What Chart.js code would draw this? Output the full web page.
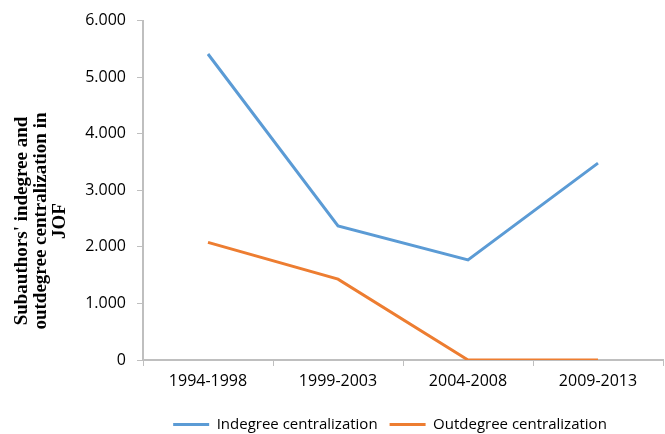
<!DOCTYPE html>
<html>
<head>
  <title>Subauthors centralization in JOF</title>
  <script src="https://cdn.jsdelivr.net/npm/chart.js"></script>
  <style>
    html, body {
      margin: 0;
      padding: 0;
      background-color: #fff;
    }

    .chart-container {
      width: 665px;
      height: 434px;
    }
  </style>
</head>
<body>
<div class="chart-container">
  <canvas id="lineChart"></canvas>
</div>

<script>
  const periods = ['1994-1998', '1999-2003', '2004-2008', '2009-2013'];
  const indegree = [5.41, 2.37, 1.77, 3.48];
  const outdegree = [2.08, 1.43, 0, 0];
  const yTitle = ["Subauthors' indegree and", 'outdegree centralization in', 'JOF'];

  const axisColor = '#bfbfbf';

  // rotated y axis title, centred on the whole canvas height
  const sideTitle = {
    id: 'sideTitle',
    afterDraw(chart) {
      const ctx = chart.ctx;
      ctx.save();
      ctx.translate(41, 221);
      ctx.rotate(-Math.PI / 2);
      ctx.font = 'bold 19px "Liberation Serif"';
      ctx.fillStyle = '#000';
      ctx.textAlign = 'center';
      ctx.textBaseline = 'middle';
      yTitle.forEach((line, i) => {
        ctx.fillText(line, 0, (i - 1) * 19);
      });
      ctx.restore();
    }
  };

  // keep the legend centred under the plot and closer to the bottom edge
  const legendShift = {
    id: 'legendShift',
    afterLayout(chart) {
      const lg = chart.legend;
      lg.left = chart.chartArea.left - 26;
      lg.right = chart.chartArea.right;
      lg.top += 8;
      lg.bottom += 8;
    }
  };

  new Chart(document.getElementById('lineChart').getContext('2d'), {
    type: 'line',
    data: {
      labels: periods,
      datasets: [
        {
          label: 'Indegree centralization',
          data: indegree,
          borderColor: '#5b9bd5',
          backgroundColor: '#5b9bd5',
          borderWidth: 3,
          pointRadius: 0,
          tension: 0
        },
        {
          label: 'Outdegree centralization',
          data: outdegree,
          borderColor: '#ed7d31',
          backgroundColor: '#ed7d31',
          borderWidth: 3,
          pointRadius: 0,
          tension: 0
        }
      ]
    },
    options: {
      responsive: true,
      maintainAspectRatio: false,
      animation: false,
      layout: { padding: { top: 20, right: 2, left: 0, bottom: 0 } },
      scales: {
        x: {
          offset: true,
          grid: {
            offset: true,
            drawOnChartArea: false,
            color: axisColor,
            tickLength: 6
          },
          border: { color: axisColor, width: 2 },
          ticks: {
            color: '#000',
            font: { family: 'Open Sans', size: 16 },
            padding: 6
          },
          afterFit(scale) { scale.height = 37; }
        },
        y: {
          min: 0,
          max: 6,
          grid: {
            drawOnChartArea: false,
            color: axisColor,
            tickLength: 6
          },
          border: { color: axisColor, width: 2 },
          ticks: {
            stepSize: 1,
            color: '#000',
            font: { family: 'Open Sans', size: 16 },
            padding: 11,
            callback: v => v === 0 ? '0' : v.toFixed(3)
          },
          afterFit(scale) { scale.width = 143; }
        }
      },
      plugins: {
        legend: {
          position: 'bottom',
          labels: {
            usePointStyle: true,
            pointStyle: 'line',
            pointStyleWidth: 36,
            boxWidth: 36,
            color: '#000',
            font: { family: 'Open Sans', size: 15 },
            padding: 12
          }
        },
        tooltip: { enabled: false }
      }
    },
    plugins: [sideTitle, legendShift]
  });
</script>
</body>
</html>
